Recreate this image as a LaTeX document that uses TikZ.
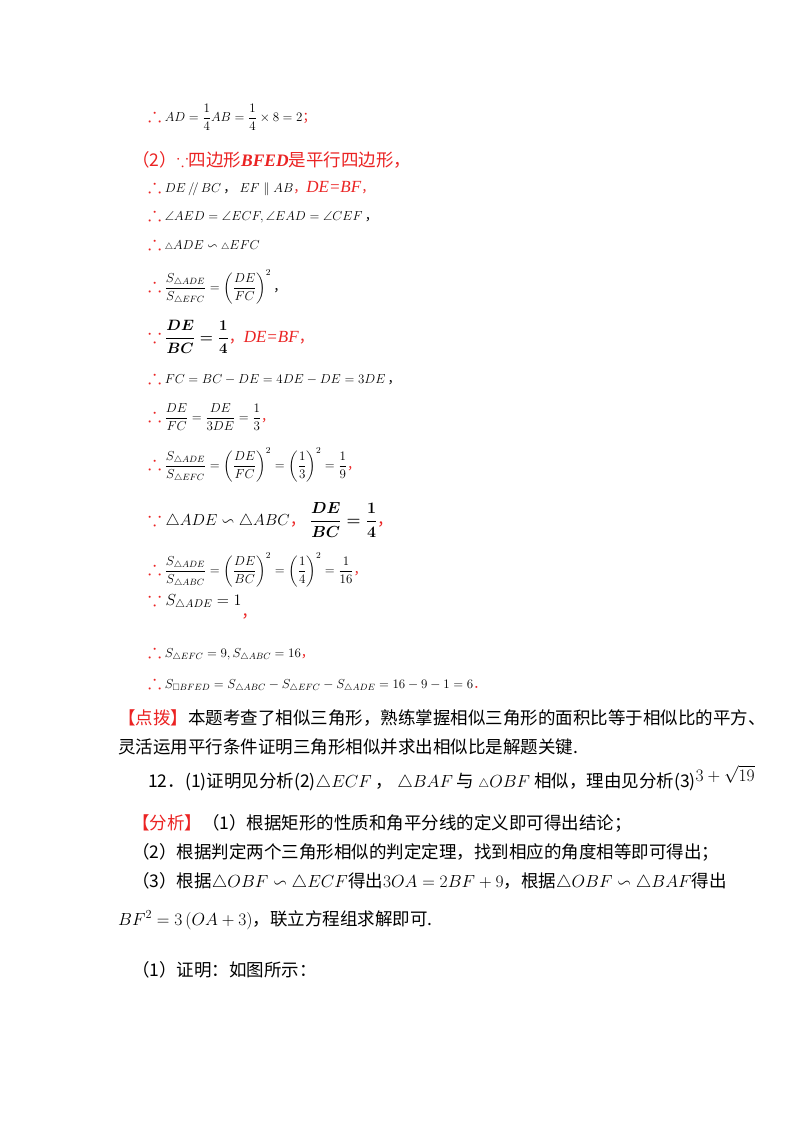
\documentclass[tikz,border=0pt]{standalone}
\usepackage{fix-cm}
\usepackage{amsmath,amssymb}
\usepackage{fontspec}
\setmainfont{Liberation Serif}
\newfontfamily\cjk{Noto Sans CJK SC}
\definecolor{rd}{RGB}{235,35,35}
\tikzset{ln/.style={anchor=west,inner sep=0pt,font=\fontsize{13}{15}\selectfont},
 zh/.style={anchor=west,inner sep=0pt,font=\fontsize{17.5}{20}\selectfont\cjk}}
\newcommand{\thr}{\textcolor{rd}{\fontsize{20}{20}\selectfont$\therefore$}\ }
\newcommand{\bec}{\textcolor{rd}{\fontsize{20}{20}\selectfont$\because$}\ }
\newcommand{\rr}[1]{\textcolor{rd}{#1}}
\newcommand{\cm}{{\cjk ，}}
\newcommand{\rdf}{{\fontsize{17}{17}\selectfont\textit{DE=BF}}}
\newcommand{\tri}{{\scriptstyle\triangle}}
\begin{document}
\begin{tikzpicture}[x=1pt,y=-1pt]
\useasboundingbox[fill=white] (0,0) rectangle (800,1132);
\node[ln] (l1) at (148,117) {\thr$AD=\dfrac14AB=\dfrac14\times8=2$\rr{\cjk ；}};
\node[zh] (l2) at (132,160) {\rr{（2）$\because$四边形{\rmfamily\textit{\textbf{BFED}}}是平行四边形，}};
\node[ln] (l3) at (148,187) {\thr$DE\,/\!/\,BC$\,\cm\ $EF\parallel AB$\rr{\cm\rdf\cm}};
\node[ln] (l4) at (148,215) {\thr$\angle AED=\angle ECF,\angle EAD=\angle CEF$\,\cm};
\node[ln] (l5) at (148,243) {\thr$\tri ADE\backsim\tri EFC$};
\node[ln] (l6) at (148,287) {\thr$\dfrac{S_{\tri ADE}}{S_{\tri EFC}}=\left(\dfrac{DE}{FC}\right)^{2}$\,\cm};
\node[ln,font=\fontsize{15}{17}\selectfont] (l7) at (148,337) {\bec$\boldsymbol{\dfrac{DE}{BC}=\dfrac{1}{4}}$\rr{\cm\rdf\cm}};
\node[ln] (l8) at (148,377) {\thr$FC=BC-DE=4DE-DE=3DE$\,\cm};
\node[ln] (l9) at (148,417) {\thr$\dfrac{DE}{FC}=\dfrac{DE}{3DE}=\dfrac13$\rr{\cm}};
\node[ln] (l10) at (148,465) {\thr$\dfrac{S_{\tri ADE}}{S_{\tri EFC}}=\left(\dfrac{DE}{FC}\right)^{2}=\left(\dfrac13\right)^{2}=\dfrac19$\rr{\cm}};
\node[ln,font=\fontsize{16}{18}\selectfont] (l11) at (148,520) {\bec$\triangle ADE\backsim\triangle ABC$\rr{\cm}\ $\boldsymbol{\dfrac{DE}{BC}=\dfrac{1}{4}}$\rr{\cm}};
\node[ln] (l12) at (148,570) {\thr$\dfrac{S_{\tri ADE}}{S_{\tri ABC}}=\left(\dfrac{DE}{BC}\right)^{2}=\left(\dfrac14\right)^{2}=\dfrac1{16}$\rr{\cm}};
\node[ln,font=\fontsize{16}{18}\selectfont] (l13) at (148,605) {\bec$S_{\triangle ADE}=1$\raisebox{-12pt}{\rr{\cm}}};
\node[ln] (l14) at (148,652) {\thr$S_{\tri EFC}=9,S_{\tri ABC}=16$\rr{\cm}};
\node[ln] (l15) at (148,683) {\thr$S_{\square BFED}=S_{\tri ABC}-S_{\tri EFC}-S_{\tri ADE}=16-9-1=6$\rr{\cjk ．}};
\node[zh] (l16) at (118,718) {\rr{【点拨】}本题考查了相似三角形，熟练掌握相似三角形的面积比等于相似比的平方、};
\node[zh] (l17) at (118,747) {灵活运用平行条件证明三角形相似并求出相似比是解题关键.};
\node[zh] (l18) at (148,778) {12．(1)证明见分析(2)$\triangle ECF$\ ，\ $\triangle BAF$ 与 ${\scriptstyle\triangle}OBF$ 相似，理由见分析(3)\raisebox{6pt}{$3+\sqrt{19}$}};
\node[zh] (l19) at (132,823) {\rr{【分析】}（1）根据矩形的性质和角平分线的定义即可得出结论；};
\node[zh] (l20) at (132,852) {（2）根据判定两个三角形相似的判定定理，找到相应的角度相等即可得出；};
\node[zh] (l21) at (132,882) {（3）根据$\triangle OBF\backsim\triangle ECF$得出$3OA=2BF+9$，根据$\triangle OBF\backsim\triangle BAF$得出};
\node[zh] (l22) at (118,920) {$BF^{2}=3\left(OA+3\right)$，联立方程组求解即可.};
\node[zh] (l23) at (132,970) {（1）证明：如图所示：};
\end{tikzpicture}
\end{document}
